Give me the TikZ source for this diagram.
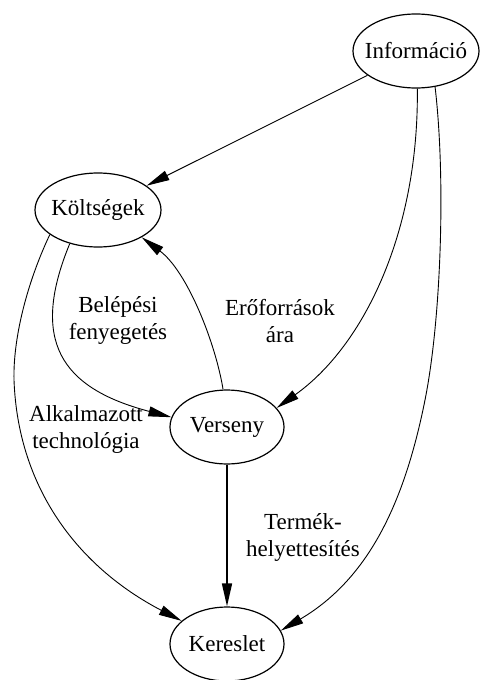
\documentclass[tikz,border=0pt]{standalone}
\usepackage{fontspec}
\setmainfont{Liberation Serif}
\usetikzlibrary{shapes.geometric,arrows.meta}

\begin{document}
\begin{tikzpicture}[x=1pt,y=-1pt,
  every node/.style={font=\fontsize{23}{27}\selectfont},
  ell/.style={ellipse, draw, line width=1.2pt, inner xsep=-14pt, inner ysep=0pt,
              minimum width=#1, minimum height=74pt},
  lbl/.style={align=center, inner sep=0pt},
  edge/.style={line width=0.9pt, -{Triangle[length=23pt,width=10pt]}},
  thick edge/.style={edge, line width=1.6pt}]

  \useasboundingbox (0,0) rectangle (480,680);

  % nodes of the graph
  \node[ell=126pt] (info) at (416,51)  {Információ};
  \node[ell=126pt] (kolt) at (98,210)  {Költségek};
  \node[ell=114pt] (vers) at (227,427) {Verseny};
  \node[ell=114pt] (ker)  at (227,644) {Kereslet};

  % edge labels
  \node[lbl] (lbelep) at (118,320) {Belépési\\fenyegetés};
  \node[lbl] (lero)   at (280,321) {Erőforrások\\ára};
  \node[lbl] (lalk)   at (86,429)  {Alkalmazott\\technológia};
  \node[lbl] (lterm)  at (303,537) {Termék-\\helyettesítés};

  % connectors
  \draw[edge] (info) -- (kolt);
  \draw[edge] (info.272) .. controls (419,230) and (365,345) .. (vers.21);
  \draw[edge] (info.-62) .. controls (446,180) and (441,320) .. (425,400)
                         .. controls (405,500) and (370,578) .. (ker.14);
  \draw[edge] (kolt.207) .. controls (26,285) and (13,340) .. (14,380)
                         .. controls (18,490) and (80,568) .. (ker.153);
  \draw[edge] (kolt.230) .. controls (30,340) and (60,388) .. (vers.170);
  \draw[edge] (vers.96) .. controls (216,345) and (188,272) .. (kolt.-32);
  \draw[thick edge] (vers) -- (ker);
\end{tikzpicture}
\end{document}
